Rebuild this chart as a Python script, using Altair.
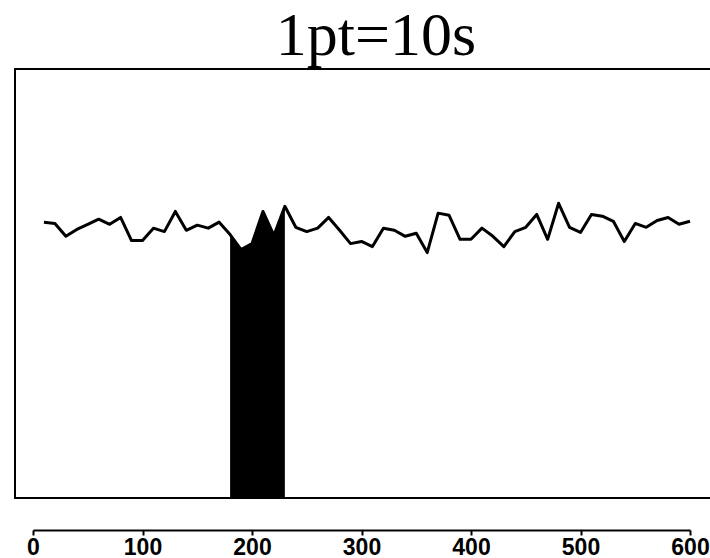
import altair as alt
import pandas as pd

# time (s), one point every 10 s
times = [10 * k for k in range(1, 61)]
values = [64.3, 64.0, 61.0, 62.6, 63.8, 65.0, 63.8, 65.4, 60.0, 60.0,
          62.9, 62.1, 66.8, 62.4, 63.6, 62.9, 64.3, 61.4, 57.9, 59.3,
          66.8, 61.2, 68.0, 63.1, 62.1, 62.9, 65.4, 62.4, 59.3, 59.8,
          58.6, 62.9, 62.4, 61.0, 61.7, 57.2, 66.4, 65.9, 60.3, 60.3,
          62.9, 61.0, 58.6, 62.1, 63.1, 66.1, 60.3, 68.7, 63.1, 61.9,
          66.1, 65.7, 64.5, 59.8, 64.0, 63.1, 64.7, 65.4, 63.8, 64.5]
fill_start = 180
fill_end = 230
tick_values = [0, 100, 200, 300, 400, 500, 600]
title_text = "1pt=10s"

df = pd.DataFrame({"t": times, "v": values})
fill_df = df[(df.t >= fill_start) & (df.t <= fill_end)]

xscale = alt.Scale(domain=[0, 600], nice=False, zero=False)
yscale = alt.Scale(domain=[0, 100], nice=False)

xaxis = alt.Axis(values=tick_values, grid=False, offset=32, domainWidth=2,
                 domainColor="black", tickColor="black", tickWidth=2, tickSize=5,
                 labelFont="Liberation Sans", labelFontSize=23, labelFontWeight="bold",
                 labelColor="black", labelPadding=1, title=None, labelFlush=False)

frame = alt.Chart(pd.DataFrame({"a": [0]})).mark_rect(
    fill=None, stroke="black", strokeWidth=2
).encode(x=alt.value(-18), x2=alt.value(690), y=alt.value(0), y2=alt.value(429))

title = alt.Chart(pd.DataFrame({"label": [title_text]})).mark_text(
    font="Liberation Serif", fontSize=62, color="black", align="center",
    baseline="alphabetic"
).encode(text="label:N", x=alt.value(343), y=alt.value(-14))

area = alt.Chart(fill_df).mark_area(color="black", opacity=1).encode(
    x=alt.X("t:Q", scale=xscale, axis=xaxis),
    y=alt.Y("v:Q", scale=yscale, axis=None),
)

line = alt.Chart(df).mark_line(color="black", strokeWidth=3, strokeJoin="round").encode(
    x=alt.X("t:Q", scale=xscale, axis=xaxis),
    y=alt.Y("v:Q", scale=yscale, axis=None),
)

chart = alt.layer(area, line, frame, title).properties(
    width=657,
    height=429,
    autosize=alt.AutoSizeParams(type="none"),
    padding={"left": 33, "top": 69, "right": 20, "bottom": 60},
    background="white",
).configure_view(stroke=None)

chart.save("out.html", embed_options={"renderer": "svg", "actions": False})
